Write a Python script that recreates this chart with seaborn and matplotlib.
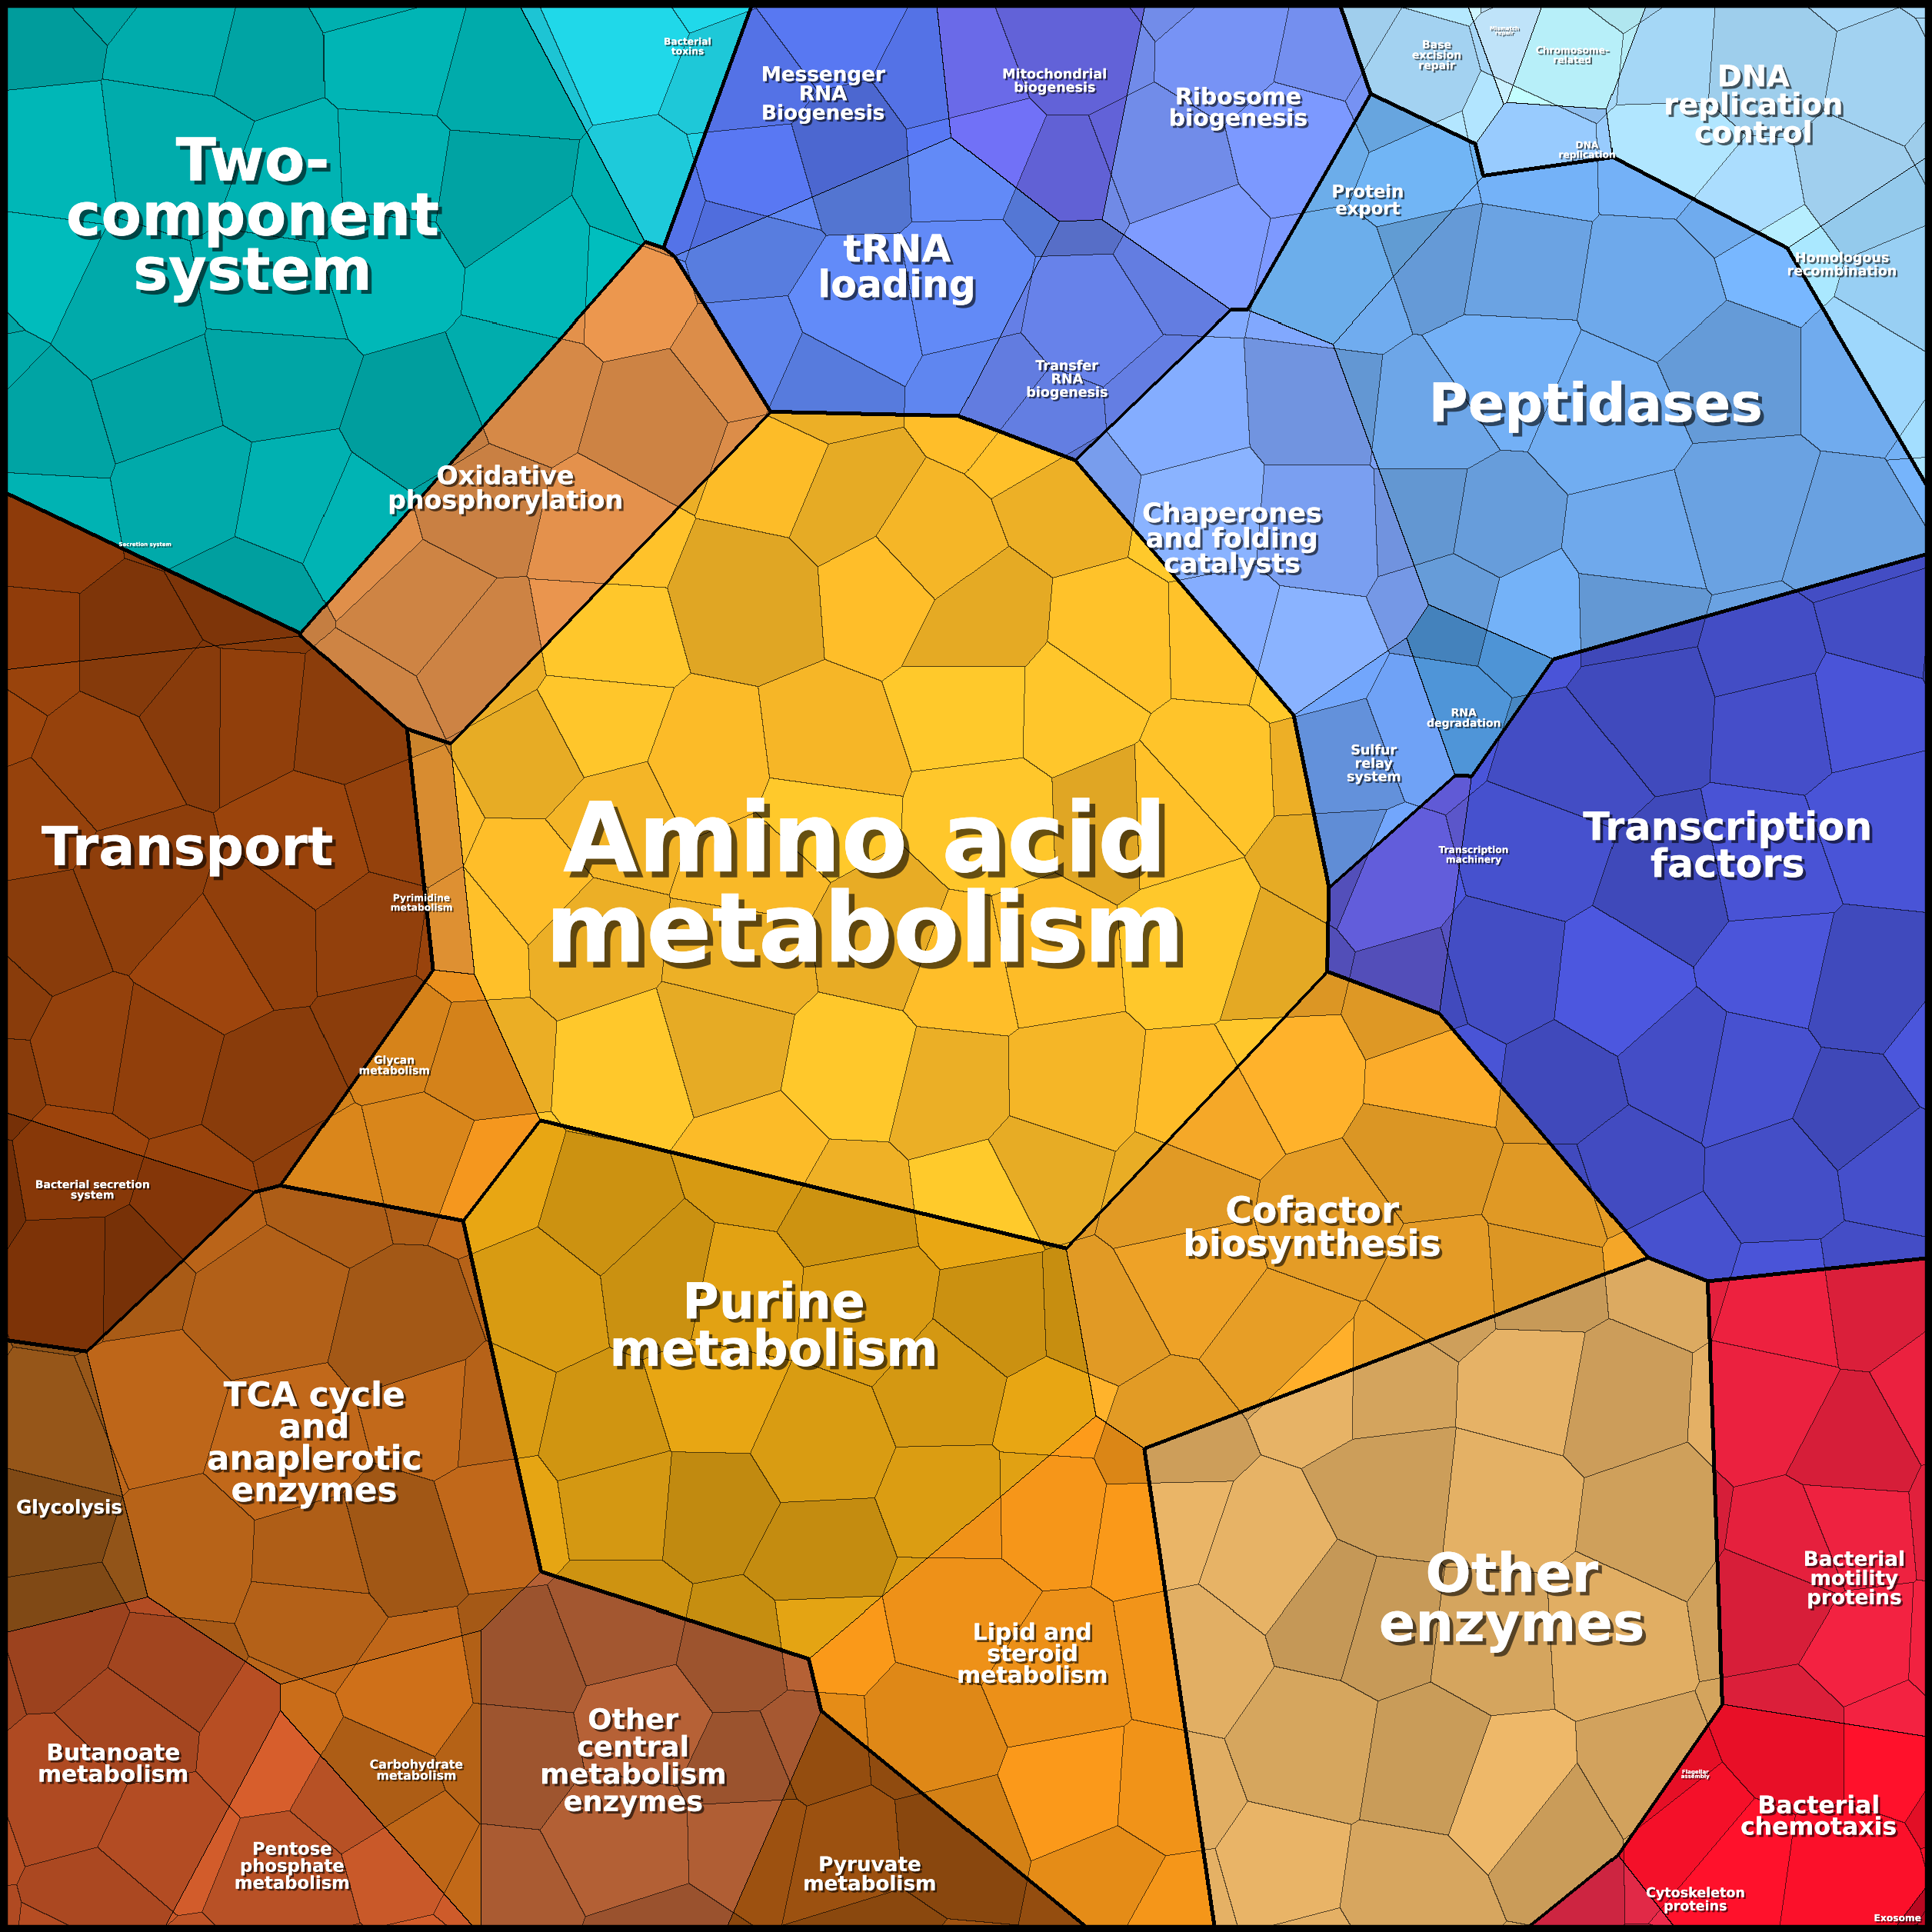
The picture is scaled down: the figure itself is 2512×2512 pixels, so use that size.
import numpy as np
import matplotlib
matplotlib.use("Agg")
import matplotlib.pyplot as plt
import matplotlib.patheffects as pe
import seaborn as sns

# reference layout space of the treemap
W, H = 1568, 1568

# leaf categories of the treemap
labels = [
    "Two-\ncomponent\nsystem", "Bacterial\ntoxins",
    "Messenger\nRNA\nBiogenesis", "Mitochondrial\nbiogenesis", "Ribosome\nbiogenesis",
    "tRNA\nloading", "Transfer\nRNA\nbiogenesis",
    "Protein\nexport", "Peptidases", "Chaperones\nand folding\ncatalysts",
    "Sulfur\nrelay\nsystem", "RNA\ndegradation",
    "Base\nexcision\nrepair", "Mismatch\nrepair", "Chromosome-\nrelated", "DNA\nreplication",
    "DNA\nreplication\ncontrol", "Homologous\nrecombination",
    "Transcription\nmachinery", "Transcription\nfactors",
    "Bacterial\nmotility\nproteins", "Bacterial\nchemotaxis", "Flagellar\nassembly",
    "Cytoskeleton\nproteins", "Exosome",
    "Amino acid\nmetabolism", "Pyrimidine\nmetabolism", "Glycan\nmetabolism",
    "Oxidative\nphosphorylation",
    "Purine\nmetabolism", "Cofactor\nbiosynthesis", "Lipid and\nsteroid\nmetabolism",
    "Other\nenzymes",
    "Transport", "Bacterial secretion\nsystem", "Secretion system",
    "TCA cycle\nand\nanaplerotic\nenzymes", "Glycolysis", "Butanoate\nmetabolism",
    "Pentose\nphosphate\nmetabolism", "Carbohydrate\nmetabolism",
    "Other\ncentral\nmetabolism\nenzymes", "Pyruvate\nmetabolism",
]
groups = [
    0, 0,
    1, 1, 1, 1, 1,
    2, 2, 2, 2, 2,
    3, 3, 3, 3, 3, 3,
    4, 4,
    5, 5, 5, 5, 5,
    6, 6, 6,
    7,
    8, 8, 8,
    9,
    10, 10, 10,
    11, 11, 11, 11, 11, 11, 11,
]
colors = [
    "#00AEAE", "#1EC8D8",
    "#5472E6", "#6A6AE8", "#7A96FA", "#5C82E8", "#5F78D8",
    "#6AAAE6", "#6EA8EA", "#7EA4F8", "#6898E6", "#4A8CCA",
    "#A8D8F8", "#C0E4FA", "#B8F0FA", "#90C0F0", "#A8DAFA", "#9CD4F8",
    "#5A55C8", "#4650CC",
    "#E0203C", "#EE1028", "#C81030", "#DC2846", "#B00820",
    "#F8B828", "#D48A30", "#E08A1C",
    "#D88A48",
    "#D49812", "#F0A428", "#E88E18",
    "#D9A860",
    "#92400C", "#7E3408", "#8A3A0A",
    "#B26018", "#8E5218", "#AE4A22", "#CC5A2A", "#C06818", "#A85A32", "#964E10",
]

# layout: seed site, cell radius, label position and size
seed_x = [230, 560, 670, 855, 1005, 730, 865, 1110, 1300, 1000, 1110, 1195, 1165, 1220, 1275,
          1270, 1420, 1495, 1190, 1410, 1470, 1440, 1370, 1370, 1545, 720, 335, 320, 440,
          620, 1070, 840, 1180, 150, 75, 118, 260, 40, 90, 240, 330, 510, 705]
seed_y = [225, 50, 90, 70, 100, 230, 300, 160, 330, 440, 600, 570, 45, 25, 45,
          120, 100, 215, 690, 720, 1290, 1480, 1440, 1535, 1560, 680, 720, 860, 410,
          1090, 1010, 1350, 1300, 740, 975, 460, 1170, 1225, 1430, 1510, 1430, 1430, 1515]
radius = [255, 30, 85, 70, 100, 110, 85, 70, 200, 150, 65, 45, 40, 22, 35,
          25, 110, 55, 45, 230, 140, 130, 50, 65, 15, 345, 45, 60, 175,
          230, 170, 140, 245, 200, 50, 10, 170, 70, 110, 80, 60, 120, 75]
text_x = [205, 558, 668, 856, 1005, 728, 866, 1110, 1295, 1000, 1115, 1188, 1166, 1221, 1276,
          1288, 1423, 1495, 1196, 1402, 1505, 1476, 1376, 1376, 1540, 702, 342, 320, 410,
          628, 1065, 838, 1227, 152, 75, 118, 255, 56, 92, 237, 338, 514, 706]
text_y = [178, 38, 77, 66, 88, 218, 308, 163, 330, 438, 620, 583, 45, 25, 45,
          122, 86, 215, 694, 688, 1282, 1475, 1440, 1542, 1557, 722, 733, 865, 397,
          1078, 998, 1343, 1300, 690, 966, 442, 1172, 1224, 1432, 1515, 1437, 1430, 1522]
text_size = [44, 7, 15, 10, 17, 28, 10, 13, 40, 20, 10, 8, 8, 4, 7,
             7, 22, 10, 7, 29, 15, 18, 4, 10, 7, 72, 7, 8, 19,
             37, 27, 17, 40, 40, 8, 4, 25, 14, 17, 13, 9, 21, 15]

sns.set_theme(style="white")
plt.rcParams["font.family"] = ["DejaVu Sans"]

# power diagram on pixel grid
step = 0.625
gx = np.arange(0, W, step)
gy = np.arange(0, H, step)
X, Y = np.meshgrid(gx, gy)
best = np.full(X.shape, np.inf)
lab = np.zeros(X.shape, dtype=int)
for i in range(len(labels)):
    d = (X - seed_x[i]) ** 2 + (Y - seed_y[i]) ** 2 - radius[i] ** 2
    m = d < best
    best[m] = d[m]
    lab[m] = i

# decorative sub-cells inside each leaf (jittered lattice)
s = 92.0
ci = np.floor(X / s).astype(int)
cj = np.floor(Y / s).astype(int)
sbest = np.full(X.shape, np.inf)
sub = np.zeros(X.shape, dtype=int)
for di in (-1, 0, 1):
    for dj in (-1, 0, 1):
        ii = ci + di
        jj = cj + dj
        h1 = np.sin(ii * 12.9898 + jj * 78.233) * 43758.5453
        h2 = np.sin(ii * 39.346 + jj * 11.135) * 24634.6345
        px = (ii + 0.5 + 0.75 * (h1 - np.floor(h1) - 0.5)) * s
        py = (jj + 0.5 + 0.75 * (h2 - np.floor(h2) - 0.5)) * s
        d = (X - px) ** 2 + (Y - py) ** 2
        m = d < sbest
        sbest[m] = d[m]
        sub[m] = ii[m] * 1000 + jj[m]
cellid = lab * 1000000 + sub
hs = np.sin(sub * 7.13) * 9137.77
shade = 0.9 + 0.2 * (hs - np.floor(hs))

rgb = np.array([matplotlib.colors.to_rgb(c) for c in colors])
img = np.clip(rgb[lab] * shade[..., None], 0, 1)
grp = np.array(groups)[lab]


def edges(a):
    e = np.zeros(a.shape, bool)
    e[:-1, :] |= a[:-1, :] != a[1:, :]
    e[:, :-1] |= a[:, :-1] != a[:, 1:]
    return e


def grow(e, n):
    for _ in range(n):
        t = e.copy()
        t[1:, :] |= e[:-1, :]
        t[:, 1:] |= e[:, :-1]
        t[:-1, :] |= e[1:, :]
        t[:, :-1] |= e[:, 1:]
        e = t
    return e


subedge = edges(cellid)
thin = edges(lab)
thick = grow(edges(grp), 2)
img[subedge] = img[subedge] * 0.35
img[thin] = 0
img[thick] = 0

fig = plt.figure(figsize=(25.12, 25.12), dpi=100)
ax = fig.add_axes([0, 0, 1, 1])
ax.imshow(img, extent=[0, W, H, 0], aspect="auto", interpolation="nearest")
ax.set_xlim(0, W)
ax.set_ylim(H, 0)
ax.set_xticks([])
ax.set_yticks([])
for sp in ax.spines.values():
    sp.set_linewidth(14)
    sp.set_color("black")

for i, name in enumerate(labels):
    fs = text_size[i] * 1.26
    ax.text(text_x[i], text_y[i], name, ha="center", va="center", fontsize=fs,
            color="white", fontweight="bold", linespacing=0.95,
            path_effects=[pe.withSimplePatchShadow(offset=(fs * 0.05 + 1, -fs * 0.05 - 1),
                                                   shadow_rgbFace="black", alpha=0.6),
                          pe.Normal()])

fig.savefig("out.png", dpi=100)
